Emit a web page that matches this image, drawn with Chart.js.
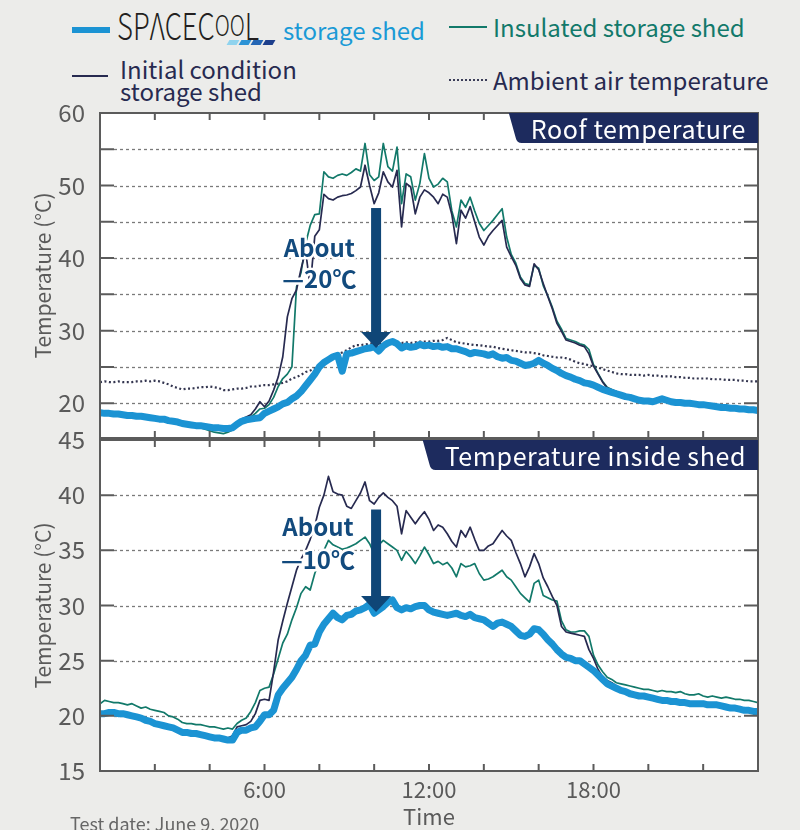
<!DOCTYPE html>
<html>
<head>
<meta charset="utf-8">
<script src="https://cdn.jsdelivr.net/npm/chart.js@4.4.1/dist/chart.umd.min.js"></script>
<style>
  html, body { margin: 0; padding: 0; background: #ececea; }
  body { width: 800px; height: 830px; position: relative; overflow: hidden;
         font-family: "Noto Sans CJK JP", "Noto Sans", sans-serif; }
  canvas { position: absolute; left: 0; }
  #roof  { top: 100px; }
  #shed  { top: 430px; }
  .lg { position: absolute; white-space: nowrap; font-size: 24px; line-height: 24px; }
  .sw { position: absolute; }
  .logo { position: absolute; left: 117px; top: 6px; font-size: 37px; line-height: 37px; color: #231f20;
          font-weight: 300; transform: scaleX(0.74); transform-origin: left top; white-space: nowrap; }
  .logo small { font-size: 28px; vertical-align: 4px; }
  .bar { position: absolute; top: 40px; width: 10px; height: 5px; transform: skewX(-30deg); }
  .note { position: absolute; left: 70px; top: 812px; font-size: 18px; line-height: 22px; color: #666; }
</style>
</head>
<body>

<!-- légende HTML -->
<div class="sw" style="left:72px;top:27px;width:38px;height:6px;background:#1b93d3"></div>
<div class="logo">SPΛCEC<small>OO</small>L</div>
<div class="bar" style="left:228px;background:#8fd3ee"></div>
<div class="bar" style="left:240px;background:#2c93d6"></div>
<div class="bar" style="left:252px;background:#2466b5"></div>
<div class="bar" style="left:264px;background:#1d3f8c"></div>
<div class="lg" style="left:283px;top:18px;color:#1a9ad6">storage shed</div>
<div class="sw" style="left:449px;top:26px;width:38px;height:2px;background:#12796a"></div>
<div class="lg" style="left:493px;top:15px;color:#12796a">Insulated storage shed</div>
<div class="sw" style="left:72px;top:75px;width:36px;height:2px;background:#272a50"></div>
<div class="lg" style="left:120px;top:58px;line-height:22px;color:#272a50">Initial condition<br>storage shed</div>
<div class="sw" style="left:449px;top:79px;width:38px;border-top:2px dotted #3b3d58"></div>
<div class="lg" style="left:493px;top:68px;color:#272a50">Ambient air temperature</div>

<canvas id="roof" width="800" height="340"></canvas>
<canvas id="shed" width="800" height="400"></canvas>
<div class="note">Test date: June 9, 2020</div>

<script>
// Relevés toutes les 10 min, de 0:00 à 24:00 (145 points par série)
const STEP_H = 10 / 60;

// ── Toit ─────────────────────────────────────────────────────────────────────
const ROOF_SPACECOOL = [
  18.7,18.6,18.6,18.5,18.5,18.4, 18.3,18.3,18.2,18.2,18.1,18.0, 17.9,17.8,17.8,17.6,17.5,17.4,
  17.2,17.1,17.0,16.9,16.9,16.8, 16.7,16.6,16.6,16.5,16.5,16.6, 17.1,17.5,17.7,17.8,17.9,18.0,
  18.6,18.9,19.2,19.5,19.9,20.1, 20.6,21.0,21.6,22.4,23.2,24.0, 25.0,25.6,26.0,26.4,26.6,24.4,
  26.8,26.9,27.1,27.3,27.5,27.6, 27.8,27.2,27.9,28.3,28.5,28.2, 27.6,27.9,27.7,27.8,28.1,27.9,
  28.0,27.8,27.9,27.7,27.8,27.5, 27.5,27.3,27.1,26.8,27.0,26.9, 26.8,26.6,26.8,26.4,26.2,26.3,
  25.9,25.8,25.5,25.2,25.3,25.5, 25.9,25.5,25.2,24.8,24.5,24.1, 23.8,23.6,23.3,23.1,22.8,22.7,
  22.5,22.2,21.9,21.7,21.5,21.3, 21.1,20.9,20.8,20.6,20.4,20.3, 20.3,20.2,20.4,20.6,20.4,20.2,
  20.1,20.1,20.0,20.0,19.9,19.8, 19.8,19.7,19.6,19.5,19.4,19.4, 19.3,19.3,19.2,19.2,19.1,19.1,
  19.0
];
const ROOF_INSULATED = [
  18.6,18.6,18.5,18.5,18.4,18.3, 18.2,18.2,18.1,18.1,18.0,17.9, 17.8,17.7,17.7,17.5,17.4,17.3,
  17.1,17.0,16.9,16.7,16.6,16.4, 16.2,16.0,15.9,15.8,16.0,16.3, 17.0,17.4,17.8,18.1,18.6,19.2,
  19.3,19.8,20.8,22.3,23.4,24.0, 25.0,36.0,38.0,42.0,44.5,46.0, 46.1,51.9,51.2,51.0,51.4,51.6,
  51.4,51.8,52.3,52.0,55.8,51.5, 50.7,51.2,55.8,52.6,52.0,55.3, 47.5,51.6,51.2,48.0,50.3,54.4,
  51.0,49.8,50.2,51.0,50.5,46.5, 44.3,48.0,47.0,48.4,46.5,44.8, 43.8,44.5,45.2,46.0,46.8,42.9,
  40.5,39.3,37.4,36.5,36.3,39.0, 38.6,36.2,34.8,33.2,31.3,30.2, 28.9,28.7,28.5,28.2,28.0,27.4,
  25.3,24.1,23.0,22.2,21.9,21.6, 21.1,20.9,20.7,20.5,20.4,20.3, 20.2,20.2,20.3,20.5,20.3,20.2,
  20.1,20.0,20.0,19.9,19.8,19.8, 19.7,19.6,19.6,19.5,19.4,19.3, 19.3,19.2,19.2,19.1,19.1,19.0,
  19.0
];
const ROOF_INITIAL = [
  18.8,18.7,18.7,18.6,18.6,18.5, 18.4,18.4,18.3,18.3,18.2,18.1, 18.0,17.9,17.9,17.7,17.6,17.5,
  17.3,17.2,17.1,17.0,17.0,16.9, 16.8,16.7,16.7,16.6,16.7,16.8, 17.3,17.8,18.1,18.4,19.2,20.2,
  19.5,20.3,21.8,23.6,26.4,31.9, 34.4,35.6,38.5,41.0,36.0,43.0, 43.9,48.8,48.2,48.0,48.4,48.6,
  48.7,48.9,49.3,49.8,52.8,50.0, 47.5,49.0,51.9,50.5,49.8,52.1, 44.3,50.3,49.8,46.1,48.4,49.4,
  49.0,48.4,47.5,48.8,48.4,46.0, 42.0,46.6,45.5,47.1,45.0,42.9, 41.8,43.0,43.8,44.5,45.2,41.5,
  40.2,39.0,37.2,36.3,36.1,39.2, 38.4,36.5,34.7,33.0,31.0,29.9, 28.7,28.5,28.3,28.0,27.8,26.8,
  25.1,24.0,22.9,22.1,21.8,21.6, 21.2,21.0,20.8,20.6,20.4,20.3, 20.3,20.2,20.4,20.6,20.4,20.2,
  20.1,20.1,20.0,20.0,19.9,19.8, 19.8,19.7,19.6,19.5,19.4,19.4, 19.3,19.3,19.2,19.2,19.1,19.1,
  19.0
];
const ROOF_AMBIENT = [
  22.9,23.0,22.9,22.9,23.0,22.9, 22.9,22.9,23.0,23.0,23.1,23.0, 23.1,23.0,22.8,22.6,22.3,22.1,
  21.9,22.0,22.0,22.1,22.2,22.2, 22.3,22.2,22.1,21.8,21.8,21.9, 22.0,22.0,22.1,22.3,22.3,22.4,
  22.5,22.5,22.6,22.7,22.8,23.0, 23.4,23.6,23.9,24.3,24.5,24.8, 25.0,25.4,25.8,26.3,26.7,27.0,
  27.3,27.7,28.0,28.0,28.1,28.2, 28.3,28.2,28.3,28.4,28.3,28.3, 28.3,28.4,28.3,28.4,28.5,28.5,
  28.5,28.6,28.6,28.7,29.0,28.7, 28.4,28.3,28.2,28.1,28.0,28.0, 27.9,27.8,27.8,27.6,27.5,27.4,
  27.3,27.2,27.1,27.0,27.0,26.9, 26.8,26.6,26.5,26.4,26.3,26.3, 26.2,26.0,25.7,25.5,25.4,25.2,
  25.1,24.9,24.7,24.5,24.3,24.1, 24.0,24.0,23.9,23.9,23.9,23.8, 23.9,23.8,23.8,23.7,23.7,23.7,
  23.6,23.6,23.5,23.5,23.4,23.4, 23.4,23.4,23.3,23.3,23.3,23.2, 23.2,23.2,23.1,23.1,23.0,23.0,
  23.0
];

// ── Intérieur du cabanon ─────────────────────────────────────────────────────
const SHED_SPACECOOL = [
  20.2,20.2,20.3,20.3,20.2,20.2, 20.1,20.0,19.9,19.8,19.6,19.5, 19.3,19.2,19.1,19.0,18.9,18.7,
  18.5,18.5,18.4,18.4,18.3,18.2, 18.1,18.0,18.0,17.9,17.8,17.8, 18.5,18.7,18.7,18.9,19.0,19.5,
  20.1,20.1,20.5,21.9,22.5,23.0, 23.5,24.2,25.0,25.5,26.4,26.5, 27.6,28.3,28.8,29.3,28.9,28.7,
  29.1,29.2,29.5,29.6,29.8,30.1, 29.3,29.6,29.9,30.3,30.5,29.8, 29.6,29.8,29.7,29.9,30.0,30.0,
  29.6,29.4,29.3,29.2,29.1,29.2, 29.3,29.1,29.0,29.2,28.9,28.8, 28.7,28.4,28.1,28.4,28.5,28.3,
  28.1,27.7,27.3,27.2,27.4,27.9, 27.8,27.4,26.9,26.5,26.0,25.6, 25.3,25.2,25.0,25.0,24.7,24.4,
  24.1,23.7,23.3,22.9,22.7,22.5, 22.3,22.2,22.0,21.9,21.8,21.8, 21.7,21.6,21.5,21.4,21.4,21.3,
  21.3,21.2,21.2,21.1,21.1,21.1, 21.1,21.0,21.0,21.0,20.9,20.8, 20.7,20.7,20.6,20.5,20.5,20.4,
  20.4
];
const SHED_INSULATED = [
  21.1,21.4,21.3,21.2,21.2,21.1, 21.0,21.1,20.9,20.7,20.8,20.6, 20.5,20.4,20.3,20.0,19.9,19.7,
  19.4,19.3,19.3,19.2,19.2,19.1, 19.0,19.0,18.9,18.8,18.9,18.8, 19.3,19.6,19.8,20.4,21.2,22.3,
  22.5,22.6,23.8,25.2,26.6,27.4, 28.7,29.8,31.1,31.7,31.4,32.9, 34.0,35.0,35.9,35.5,35.3,35.1,
  35.2,35.4,35.6,35.9,36.2,35.6, 34.7,35.5,35.9,35.6,35.3,35.0, 34.1,34.9,34.4,33.8,34.5,35.3,
  34.6,33.8,34.0,33.7,33.9,33.4, 32.6,33.8,33.5,33.6,33.8,32.9, 32.3,32.4,32.6,32.9,33.2,32.6,
  32.3,31.7,31.1,30.7,30.3,32.0, 32.3,30.9,30.7,30.5,30.4,28.6, 27.8,27.6,27.6,27.7,27.7,27.2,
  25.5,24.6,24.0,23.5,23.3,23.0, 22.9,22.8,22.7,22.6,22.5,22.4, 22.4,22.3,22.2,22.3,22.2,22.2,
  22.1,22.2,22.0,21.9,21.9,22.0, 21.8,21.7,21.8,21.7,21.6,21.7, 21.6,21.5,21.5,21.4,21.4,21.3,
  21.2
];
const SHED_INITIAL = [
  20.3,20.3,20.4,20.4,20.3,20.3, 20.2,20.1,20.0,19.9,19.7,19.6, 19.4,19.3,19.2,19.1,19.0,18.8,
  18.6,18.6,18.5,18.5,18.4,18.3, 18.2,18.1,18.1,18.0,18.0,18.2, 19.0,19.1,19.2,19.5,20.2,21.4,
  21.5,21.4,24.0,26.9,28.6,30.2, 31.7,33.2,34.2,35.0,36.0,37.2, 38.9,40.0,41.7,40.3,40.1,40.0,
  39.0,38.8,39.5,40.2,41.2,39.5, 39.2,39.8,40.2,39.8,39.5,39.0, 36.5,38.6,38.0,37.4,38.0,38.5,
  37.8,36.8,37.3,37.1,36.5,35.8, 35.3,36.8,36.2,37.1,36.0,35.0, 35.0,35.4,35.6,36.2,36.8,36.3,
  35.9,34.8,33.8,32.6,33.5,34.7, 33.8,32.5,31.7,30.8,30.0,28.1, 27.6,27.5,27.4,27.3,27.2,26.0,
  25.2,24.2,23.5,23.2,23.0,22.7, 22.4,22.3,22.1,22.0,21.9,21.9, 21.8,21.7,21.6,21.5,21.5,21.4,
  21.4,21.3,21.3,21.2,21.2,21.2, 21.2,21.1,21.1,21.1,21.0,20.9, 20.8,20.8,20.7,20.6,20.6,20.5,
  20.5
];

// ── Axes ─────────────────────────────────────────────────────────────────────
const ROOF_Y_TICKS   = [20, 25, 30, 35, 40, 45, 50, 55, 60];
const ROOF_Y_LABELED = [20, 30, 40, 50, 60];
const SHED_Y_TICKS   = [15, 20, 25, 30, 35, 40, 45];
const X_TICKS        = [0, 2, 4, 6, 8, 10, 12, 14, 16, 18, 20, 22, 24];
const X_LABEL_HOURS  = [6, 12, 18];
const X_LABELS       = ['6:00', '12:00', '18:00'];

// Flèches « About −20 °C / −10 °C » (heure, de, à, lignes de texte)
const ROOF_ARROW = { x: 10.07, from: 46.9, to: 27.6, textX: 8.0, textY: [41.4, 37.2], text: ['About', '—20℃'] };
const SHED_ARROW = { x: 10.07, from: 38.7, to: 29.4, textX: 7.95, textY: [37.1, 34.1], text: ['About', '—10℃'] };

const C_SPACE  = '#1b93d3';
const C_INSUL  = '#12796a';
const C_INIT   = '#272a50';
const C_AMB    = '#33354f';
const C_AXIS   = '#5b5b5b';
const C_TEXT   = '#5a5a5a';
const C_ARROW  = '#0f4677';
const FONT     = '"Noto Sans CJK JP", "Noto Sans", sans-serif';

const pts = (arr) => arr.map((v, i) => ({ x: i * STEP_H, y: v }));

function line(data, color, width, extra) {
  return Object.assign({
    data: pts(data), borderColor: color, borderWidth: width, pointRadius: 0,
    tension: 0, fill: false, borderJoinStyle: 'round', borderCapStyle: 'round',
  }, extra || {});
}

// Plugin : fond blanc, grille pointillée, cadre, graduations internes, onglet titre, flèche
function panelPlugin(title, arrow) {
  return {
    id: 'panel',
    beforeDraw(chart) {
      const { ctx, chartArea: a } = chart;
      ctx.save();
      ctx.fillStyle = '#ffffff';
      ctx.fillRect(a.left, a.top, a.width, a.height);
      ctx.restore();
    },
    beforeDatasetsDraw(chart) {
      const { ctx, chartArea: a, scales } = chart;
      const y = scales.y;
      ctx.save();
      ctx.strokeStyle = '#7a7a7a';
      ctx.lineWidth = 1.3;
      ctx.setLineDash([3, 3]);
      y.ticks.forEach((t) => {
        if (t.value <= y.min || t.value >= y.max) return;
        const py = Math.round(y.getPixelForValue(t.value)) + 0.5;
        ctx.beginPath();
        ctx.moveTo(a.left + 14, py);
        ctx.lineTo(a.right - 14, py);
        ctx.stroke();
      });
      ctx.restore();
    },
    afterDatasetsDraw(chart) {
      const { ctx, chartArea: a, scales } = chart;
      const x = scales.x, y = scales.y;
      ctx.save();
      // cadre
      ctx.strokeStyle = C_AXIS;
      ctx.lineWidth = 2;
      ctx.strokeRect(a.left, a.top, a.width, a.height);
      // graduations internes
      ctx.beginPath();
      y.ticks.forEach((t) => {
        if (t.value <= y.min || t.value >= y.max) return;
        const py = y.getPixelForValue(t.value);
        ctx.moveTo(a.left, py); ctx.lineTo(a.left + 14, py);
        ctx.moveTo(a.right - 14, py); ctx.lineTo(a.right, py);
      });
      X_TICKS.forEach((h) => {
        if (h <= x.min || h >= x.max) return;
        const px = x.getPixelForValue(h);
        ctx.moveTo(px, a.top); ctx.lineTo(px, a.top + 7);
        ctx.moveTo(px, a.bottom - 7); ctx.lineTo(px, a.bottom);
      });
      ctx.stroke();

      // onglet titre
      ctx.font = '25px ' + FONT;
      if ('letterSpacing' in ctx) ctx.letterSpacing = '0.6px';
      const tw = ctx.measureText(title).width;
      const h = 30;
      const left = a.right - tw - 34;
      ctx.fillStyle = '#1d2b5e';
      ctx.beginPath();
      ctx.moveTo(left, a.top);
      ctx.lineTo(a.right, a.top);
      ctx.lineTo(a.right, a.top + h);
      ctx.lineTo(left + 13, a.top + h);
      ctx.quadraticCurveTo(left + 8, a.top + h, left + 7, a.top + h - 5);
      ctx.closePath();
      ctx.fill();
      ctx.fillStyle = '#ffffff';
      ctx.textAlign = 'right';
      ctx.textBaseline = 'middle';
      ctx.fillText(title, a.right - 12, a.top + h / 2 + 1);
      if ('letterSpacing' in ctx) ctx.letterSpacing = '0px';

      // flèche
      const ax = x.getPixelForValue(arrow.x);
      const y0 = y.getPixelForValue(arrow.from);
      const y1 = y.getPixelForValue(arrow.to);
      ctx.fillStyle = C_ARROW;
      ctx.fillRect(ax - 5, y0, 10, y1 - y0 - 15);
      ctx.beginPath();
      ctx.moveTo(ax - 15, y1 - 16);
      ctx.lineTo(ax + 15, y1 - 16);
      ctx.lineTo(ax, y1);
      ctx.closePath();
      ctx.fill();

      // texte « About / −20 °C »
      ctx.font = 'bold 24px ' + FONT;
      ctx.textAlign = 'center';
      ctx.lineJoin = 'round';
      ctx.lineWidth = 5;
      ctx.strokeStyle = '#ffffff';
      const tx = x.getPixelForValue(arrow.textX);
      arrow.text.forEach((s, i) => {
        const ty = y.getPixelForValue(arrow.textY[i]);
        ctx.strokeText(s, tx, ty);
        ctx.fillStyle = '#124a7d';
        ctx.fillText(s, tx, ty);
      });
      ctx.restore();
    },
  };
}

function yScale(min, max, ticks, labeled) {
  return {
    type: 'linear', min, max,
    afterBuildTicks: (s) => { s.ticks = ticks.map((v) => ({ value: v })); },
    afterFit: (s) => { s.width = 100; s.paddingTop = 0; s.paddingBottom = 0; },
    grid: { display: false },
    border: { display: false },
    ticks: {
      padding: 7, color: C_TEXT, font: { family: FONT, size: 24 },
      callback: (v) => (labeled.includes(v) ? String(v) : ''),
    },
    title: {
      display: true, text: 'Temperature (°C)', color: C_TEXT,
      font: { family: FONT, size: 21 }, padding: { top: 30, bottom: 0 },
    },
  };
}

const common = {
  responsive: false,
  animation: false,
  events: [],
  plugins: { legend: { display: false }, tooltip: { enabled: false } },
};

// ── Panneau haut : toit ─────────────────────────────────────────────────────
new Chart(document.getElementById('roof'), {
  type: 'line',
  data: {
    datasets: [
      line(ROOF_SPACECOOL, C_SPACE, 7),
      line(ROOF_INITIAL, C_INIT, 1.7),
      line(ROOF_INSULATED, C_INSUL, 1.7),
      line(ROOF_AMBIENT, C_AMB, 2.2, { borderDash: [2, 2.5], borderCapStyle: 'butt' }),
    ],
  },
  options: Object.assign({}, common, {
    layout: { padding: { top: 13, right: 42, bottom: 2, left: 0 } },
    scales: {
      x: { type: 'linear', min: 0, max: 24, display: false },
      y: yScale(15.2, 60, ROOF_Y_TICKS, ROOF_Y_LABELED),
    },
  }),
  plugins: [panelPlugin('Roof temperature', ROOF_ARROW)],
});

// ── Panneau bas : intérieur ─────────────────────────────────────────────────
new Chart(document.getElementById('shed'), {
  type: 'line',
  data: {
    datasets: [
      line(SHED_SPACECOOL, C_SPACE, 7),
      line(SHED_INITIAL, C_INIT, 1.7),
      line(SHED_INSULATED, C_INSUL, 1.7),
    ],
  },
  options: Object.assign({}, common, {
    layout: { padding: { top: 10, right: 42, bottom: 0, left: 0 } },
    scales: {
      x: {
        type: 'linear', min: 0, max: 24,
        afterBuildTicks: (s) => { s.ticks = X_TICKS.map((v) => ({ value: v })); },
        afterFit: (s) => { s.height = 59; s.paddingLeft = 0; s.paddingRight = 0; },
        grid: { display: false },
        border: { display: false },
        ticks: {
          padding: -3, color: C_TEXT, font: { family: FONT, size: 22 }, maxRotation: 0, autoSkip: false,
          callback: (v) => { const k = X_LABEL_HOURS.indexOf(v); return k >= 0 ? X_LABELS[k] : ''; },
        },
        title: {
          display: true, text: 'Time', color: C_TEXT,
          font: { family: FONT, size: 22 }, padding: { top: 0, bottom: 0 },
        },
      },
      y: yScale(15, 45, SHED_Y_TICKS, SHED_Y_TICKS),
    },
  }),
  plugins: [panelPlugin('Temperature inside shed', SHED_ARROW)],
});
</script>
</body>
</html>
